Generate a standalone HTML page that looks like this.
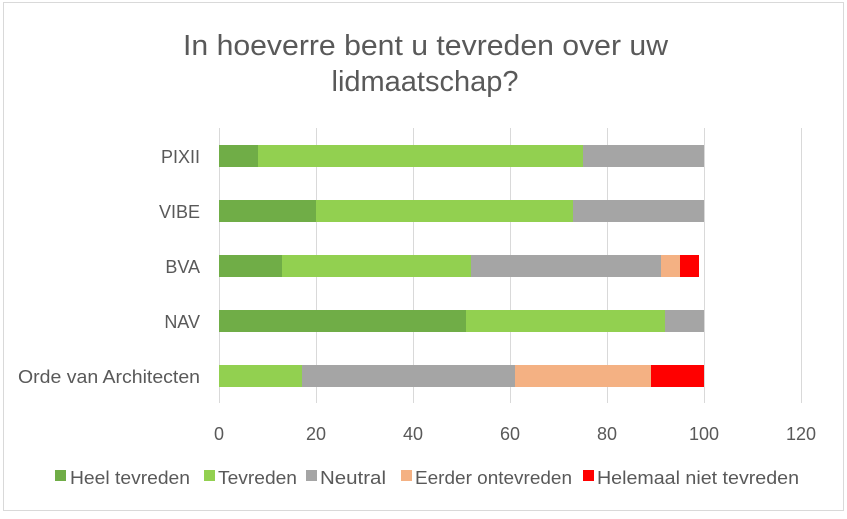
<!DOCTYPE html>
<html><head><style>
body{margin:0;background:#fff;}
svg text{font-family:"Liberation Sans",sans-serif;fill:#595959;}
</style></head><body>
<svg width="847" height="514" xmlns="http://www.w3.org/2000/svg">
<rect x="0" y="0" width="847" height="514" fill="#fff"/>
<rect x="3.5" y="2.5" width="840" height="508" fill="#fff" stroke="#d9d9d9"/>
<text x="183" y="55" font-size="29" textLength="485" lengthAdjust="spacingAndGlyphs">In hoeverre bent u tevreden over uw</text>
<text x="425" y="91" font-size="29" text-anchor="middle">lidmaatschap?</text>
<g stroke="#d9d9d9" stroke-width="1">
<line x1="219.5" y1="128" x2="219.5" y2="403"/>
<line x1="316.5" y1="128" x2="316.5" y2="403"/>
<line x1="413.5" y1="128" x2="413.5" y2="403"/>
<line x1="510.5" y1="128" x2="510.5" y2="403"/>
<line x1="607.5" y1="128" x2="607.5" y2="403"/>
<line x1="704.5" y1="128" x2="704.5" y2="403"/>
<line x1="801.5" y1="128" x2="801.5" y2="403"/>
</g>
<rect x="219" y="145" width="39" height="22" fill="#70ad47"/>
<rect x="258" y="145" width="325" height="22" fill="#92d050"/>
<rect x="583" y="145" width="121" height="22" fill="#a5a5a5"/>
<rect x="219" y="200" width="97" height="22" fill="#70ad47"/>
<rect x="316" y="200" width="257" height="22" fill="#92d050"/>
<rect x="573" y="200" width="131" height="22" fill="#a5a5a5"/>
<rect x="219" y="255" width="63" height="22" fill="#70ad47"/>
<rect x="282" y="255" width="189" height="22" fill="#92d050"/>
<rect x="471" y="255" width="190" height="22" fill="#a5a5a5"/>
<rect x="661" y="255" width="19" height="22" fill="#f4b183"/>
<rect x="680" y="255" width="19" height="22" fill="#ff0000"/>
<rect x="219" y="310" width="247" height="22" fill="#70ad47"/>
<rect x="466" y="310" width="199" height="22" fill="#92d050"/>
<rect x="665" y="310" width="39" height="22" fill="#a5a5a5"/>
<rect x="219" y="365" width="83" height="22" fill="#92d050"/>
<rect x="302" y="365" width="213" height="22" fill="#a5a5a5"/>
<rect x="515" y="365" width="136" height="22" fill="#f4b183"/>
<rect x="651" y="365" width="53" height="22" fill="#ff0000"/>
<g font-size="18" text-anchor="end">
<text x="200" y="163">PIXII</text>
<text x="200" y="218">VIBE</text>
<text x="200" y="273">BVA</text>
<text x="200" y="328">NAV</text>
</g>
<text x="18" y="383" font-size="18" textLength="182" lengthAdjust="spacingAndGlyphs">Orde van Architecten</text>
<g font-size="18" text-anchor="middle">
<text x="219" y="440">0</text>
<text x="316" y="440">20</text>
<text x="413" y="440">40</text>
<text x="510" y="440">60</text>
<text x="607" y="440">80</text>
<text x="704" y="440">100</text>
<text x="801" y="440">120</text>
</g>
<g font-size="18">
<rect x="55" y="470" width="11" height="11" fill="#70ad47"/><text x="70" y="484" textLength="120" lengthAdjust="spacingAndGlyphs">Heel tevreden</text>
<rect x="204" y="470" width="11" height="11" fill="#92d050"/><text x="218" y="484" textLength="79" lengthAdjust="spacingAndGlyphs">Tevreden</text>
<rect x="306" y="470" width="11" height="11" fill="#a5a5a5"/><text x="320" y="484" textLength="66" lengthAdjust="spacingAndGlyphs">Neutral</text>
<rect x="401" y="470" width="11" height="11" fill="#f4b183"/><text x="415" y="484" textLength="157" lengthAdjust="spacingAndGlyphs">Eerder ontevreden</text>
<rect x="583" y="470" width="11" height="11" fill="#ff0000"/><text x="597" y="484" textLength="202" lengthAdjust="spacingAndGlyphs">Helemaal niet tevreden</text>
</g>
</svg>
</body></html>
